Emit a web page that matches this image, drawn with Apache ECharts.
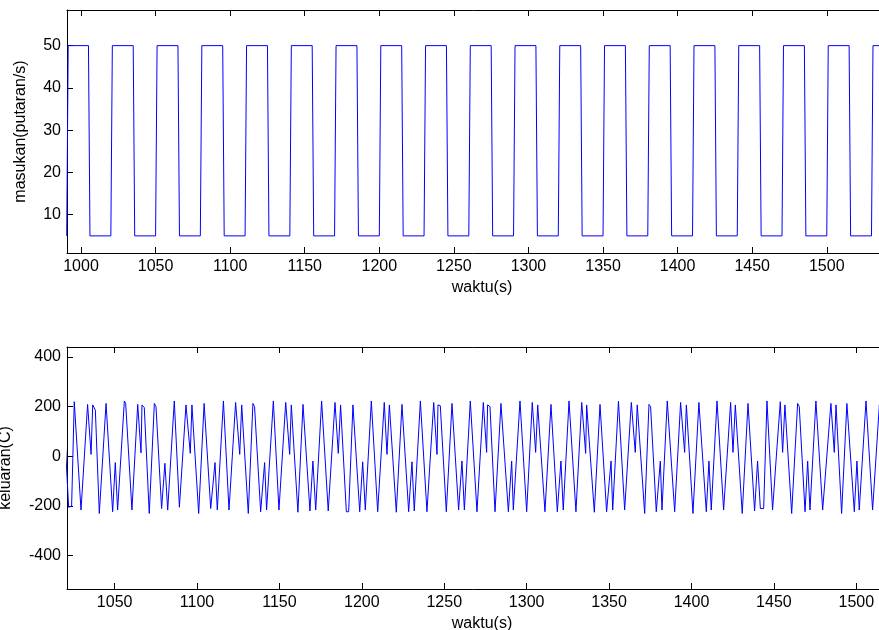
<!DOCTYPE html>
<html>
<head>
<meta charset="utf-8">
<script src="https://cdn.jsdelivr.net/npm/echarts@6/dist/echarts.min.js"></script>
<style>
html,body{margin:0;padding:0;background:#fff;}
#chart{width:879px;height:630px;}
</style>
</head>
<body>
<div id="chart"></div>
<script>
// ---- top plot: input square wave (time, value) corner points ----
const inputTimes = [990.4,991.4,1005,1006,1020,1021,1035,1036,1050,1051,1065,1066,1080,1081,1095,1096,1110,1111,1125,1126,1140,1141,1155,1156,1170,1171,1185,1186,1200,1201,1215,1216,1230,1231,1245,1246,1260,1261,1275,1276,1290,1291,1305,1306,1320,1321,1335,1336,1350,1351,1365,1366,1380,1381,1395,1396,1410,1411,1425,1426,1440,1441,1455,1456,1470,1471,1485,1486,1500,1501,1515,1516,1530,1531,1545,1546];
const inputValues = [5,50,50,5,5,50,50,5,5,50,50,5,5,50,50,5,5,50,50,5,5,50,50,5,5,50,50,5,5,50,50,5,5,50,50,5,5,50,50,5,5,50,50,5,5,50,50,5,5,50,50,5,5,50,50,5,5,50,50,5,5,50,50,5,5,50,50,5,5,50,50,5,5,50,50,5];

// ---- bottom plot: output signal vertices (time, value) ----
const outputTimes = [1020.0,1022.1,1023.9,1025.5,1026.4,1029.6,1033.6,1035.7,1036.7,1038.3,1040.7,1044.8,1048.8,1050.4,1051.8,1055.9,1056.7,1060.5,1064.0,1066.0,1066.6,1068.0,1071.0,1074.1,1075.1,1078.5,1080.5,1082.2,1086.2,1089.3,1093.3,1095.9,1096.9,1101.0,1104.3,
1108.3,1110.9,1112.3,1116.0,1119.4,1123.4,1125.9,1127.1,1127.9,1131.1,1133.9,1134.9,1138.6,1141.0,1142.2,1146.3,1149.7,1153.8,1156.2,1157.2,1158.2,1161.2,1164.3,1168.5,1170.3,1172.0,1175.6,1179.6,1183.7,1185.7,1187.1,
1188.0,1190.6,1192.0,1194.6,1195.4,1198.7,1200.5,1202.1,1205.75,1209.6,1213.6,1215.25,1216.7,1217.9,1220.9,1224.35,1228.4,1230.4,1231.8,1235.5,1239.5,1243.6,1245.6,1246.2,1247.6,1251.25,1254.7,1258.7,1260.75,1262.2,1265.8,1269.85,
1273.7,1275.7,1276.3,1277.75,1280.8,1284.4,1288.9,1290.9,1291.9,1295.95,1300.0,1303.4,1305.45,1306.7,1307.7,1311.1,1314.75,1318.6,1320.8,1322.2,1325.7,1329.9,1333.4,1335.8,1336.4,1341.05,1344.5,1348.5,1351.2,1352.2,1355.7,
1359.45,1363.5,1365.9,1367.1,1368.1,1371.6,1374.2,1375.2,1378.65,1381.1,1382.1,1385.3,1389.8,1393.4,1395.85,1396.9,1397.9,1400.9,1404.5,1409.0,1410.6,1412.0,1415.5,1419.5,1423.75,1425.2,1426.6,1427.6,1430.8,1434.3,1438.3,
1440.1,1441.8,1443.8,1445.8,1446.6,1449.2,1451.9,1453.9,1455.3,1456.7,1457.9,1460.8,1464.4,1465.4,1468.9,1470.5,1471.9,1475.5,1479.6,1484.6,1486.65,1487.7,1488.7,1491.1,1494.3,1498.8,1500.4,1501.8,1505.9,1509.9,1514.0,1516.0,1517.0];
const outputValues = [60,-205,-200,220,215,-216,209,8,207,186,-230,213,-223,-25,-216,223,213,-216,209,14,207,196,-230,213,200,-210,-28,-216,223,-205,207,12,207,-230,213,
-210,-25,-216,223,-216,217,8,207,203,-230,213,200,-223,-25,-216,223,-216,217,8,207,204,-225,209,-220,-19,-216,223,-220,217,12,207,
204,-223,-223,207,200,-223,-22,-216,223,-223,217,8,207,204,-225,209,-223,-22,-220,223,-223,217,8,207,204,-223,213,-216,-19,-216,223,-223,
217,16,207,200,-223,213,-223,-19,-216,223,-223,217,16,207,200,-223,209,-223,-19,-216,223,-223,217,12,207,-225,209,-223,-19,-216,222,
-216,217,16,207,200,-230,209,200,-223,-19,-216,223,-223,217,16,207,200,-230,217,-223,-19,-216,223,-216,217,16,207,200,-230,213,-220,
-19,-210,-210,223,217,-216,39,220,16,207,204,-230,213,200,-223,-19,-216,223,-216,213,16,207,200,-230,213,-223,-19,-216,223,-216,207,12,200];

// ---- axes ----
const topTicks = [1000,1050,1100,1150,1200,1250,1300,1350,1400,1450,1500];
const topYTicks = [10,20,30,40,50];
const bottomTicks = [1050,1100,1150,1200,1250,1300,1350,1400,1450,1500];
const bottomYTicks = [-400,-200,0,200,400];
const topXRange = [990.6, 1547.1];
const topYRange = [0.95, 58.43];
const bottomXRange = [1021.1, 1524.7];
const bottomYRange = [-534, 440.2];

const FONT = 'Liberation Sans';
const FS = 16;
const zip = (a, b) => a.map((t, i) => [t, b[i]]);
const plain = v => String(v);

function xAx(grid, range, ticks, pos, name, show) {
  return {
    type: 'value', gridIndex: grid, position: pos, min: range[0], max: range[1],
    name: show ? name : '', nameLocation: 'middle', nameGap: 27,
    nameTextStyle: {fontFamily: FONT, fontSize: FS, color: '#000'},
    axisLine: {show: true, onZero: false, lineStyle: {color: '#000', width: 1}},
    axisTick: {show: true, inside: true, length: 6, customValues: ticks, lineStyle: {color: '#000'}},
    axisLabel: {show: show, customValues: ticks, formatter: plain, margin: 6, fontFamily: FONT, fontSize: FS, color: '#000'},
    splitLine: {show: false}
  };
}
function yAx(grid, range, ticks, name, gap) {
  return {
    type: 'value', gridIndex: grid, min: range[0], max: range[1],
    name: name, nameLocation: 'middle', nameGap: gap, nameRotate: 90,
    nameTextStyle: {fontFamily: FONT, fontSize: FS, color: '#000'},
    axisLine: {show: true, onZero: false, lineStyle: {color: '#000', width: 1}},
    axisTick: {show: true, inside: true, length: 6, customValues: ticks, lineStyle: {color: '#000'}},
    axisLabel: {show: true, customValues: ticks, formatter: plain, margin: 6, fontFamily: FONT, fontSize: FS, color: '#000'},
    splitLine: {show: false}
  };
}

const chart = echarts.init(document.getElementById('chart'), null, {renderer: 'canvas'});
chart.setOption({
  animation: false,
  backgroundColor: '#ffffff',
  grid: [
    {left: 67, top: 10, width: 830, height: 243, containLabel: false, outerBoundsMode: 'none'},
    {left: 67, top: 347, width: 830, height: 242, containLabel: false, outerBoundsMode: 'none'}
  ],
  xAxis: [
    xAx(0, topXRange, topTicks, 'bottom', 'waktu(s)', true),
    xAx(0, topXRange, topTicks, 'top', '', false),
    xAx(1, bottomXRange, bottomTicks, 'bottom', 'waktu(s)', true),
    xAx(1, bottomXRange, bottomTicks, 'top', '', false)
  ],
  yAxis: [
    yAx(0, topYRange, topYTicks, 'masukan(putaran/s)', 38),
    yAx(1, bottomYRange, bottomYTicks, 'keluaran(C)', 53)
  ],
  series: [
    {type: 'line', xAxisIndex: 0, yAxisIndex: 0, data: zip(inputTimes, inputValues),
     showSymbol: false, clip: true, lineStyle: {color: '#0000ff', width: 1}},
    {type: 'line', xAxisIndex: 2, yAxisIndex: 1, data: zip(outputTimes, outputValues),
     showSymbol: false, clip: true, lineStyle: {color: '#0000ff', width: 1}}
  ]
});
</script>
</body>
</html>
